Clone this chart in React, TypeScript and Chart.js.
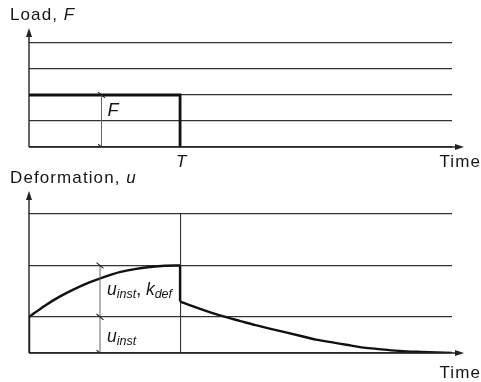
import React, { useEffect, useRef } from "react";
import { Chart, registerables } from "chart.js";

Chart.register(...registerables);

// ---- data ----
const TIME_MIN = 0;
const TIME_MAX = 28;
const LOAD_T = 10;

const loadX = [0, 10, 10];
const loadF = [2, 2, 0];
const loadGrid = [0, 1, 2, 3, 4];

const riseX = [0, 1, 2, 3, 4, 5, 6, 7, 8, 9, 10];
const riseU = [0.7, 0.91, 1.09, 1.24, 1.37, 1.48, 1.57, 1.63, 1.67, 1.695, 1.7];
const instX = [0, 0];
const instU = [0, 0.7];
const dropX = [10, 10];
const dropU = [1.7, 1.0];
const decayX = [10, 11, 12, 13, 14, 15, 16, 17, 18, 19, 20, 21, 22, 23, 24, 25, 26, 27, 28];
const decayU = [1.0, 0.89, 0.79, 0.7, 0.62, 0.54, 0.47, 0.4, 0.33, 0.26, 0.21, 0.16, 0.11, 0.08, 0.05, 0.03, 0.02, 0.01, 0.0];
const defGrid = [0, 0.7, 1.7, 2.7];

const dimLoadX = [4.8, 4.8];
const dimLoadY = [0, 2];
const dimDefX = [4.7, 4.7, 4.7];
const dimDefY = [0, 0.7, 1.7];

const FONT = "'Liberation Sans', Arial, Helvetica, sans-serif";
const TXT = "#161616";
const GRID = "#333";
const INK = "#111";

const pts = (xs: number[], ys: number[]) => xs.map((x, i) => ({ x, y: ys[i] }));

type Part = { t: string; it?: boolean; sub?: boolean };

function drawRich(ctx: CanvasRenderingContext2D, x: number, y: number, parts: Part[], size = 17, subSize = 12) {
  let cx = x;
  for (const p of parts) {
    const s = p.sub ? subSize : size;
    ctx.font = `${p.it ? "italic " : ""}${s}px ${FONT}`;
    ctx.fillText(p.t, cx, p.sub ? y + 3 : y);
    cx += ctx.measureText(p.t).width;
  }
}

function arrowUp(ctx: CanvasRenderingContext2D, x: number, y: number) {
  ctx.beginPath();
  ctx.moveTo(x, y);
  ctx.lineTo(x - 3, y + 9);
  ctx.lineTo(x + 3, y + 9);
  ctx.closePath();
  ctx.fill();
}
function arrowRight(ctx: CanvasRenderingContext2D, x: number, y: number) {
  ctx.beginPath();
  ctx.moveTo(x, y);
  ctx.lineTo(x - 9, y - 3);
  ctx.lineTo(x - 9, y + 3);
  ctx.closePath();
  ctx.fill();
}

function axesPlugin(topExt: number, labels: (chart: any, ctx: CanvasRenderingContext2D) => void) {
  return {
    id: "decor",
    afterDraw(chart: any) {
      const ctx: CanvasRenderingContext2D = chart.ctx;
      const a = chart.chartArea;
      ctx.save();
      ctx.strokeStyle = "#222";
      ctx.fillStyle = "#222";
      ctx.lineWidth = 1.4;
      ctx.beginPath();
      ctx.moveTo(a.left, a.bottom);
      ctx.lineTo(a.left, a.top - topExt + 4);
      ctx.moveTo(a.left, a.bottom);
      ctx.lineTo(a.right + 7, a.bottom);
      ctx.stroke();
      arrowUp(ctx, a.left, a.top - topExt);
      arrowRight(ctx, a.right + 12, a.bottom);
      ctx.fillStyle = TXT;
      ctx.textBaseline = "alphabetic";
      (ctx as any).letterSpacing = "1.1px";
      labels(chart, ctx);
      ctx.restore();
    },
  };
}

const dimStyle = {
  borderColor: "#666",
  borderWidth: 1,
  pointStyle: "line" as const,
  pointRotation: 40,
  pointRadius: 4.5,
  pointBorderWidth: 1.2,
  pointBorderColor: "#222",
  tension: 0,
};

const inkStyle = {
  borderColor: INK,
  borderWidth: 2.4,
  pointRadius: 0,
  borderCapStyle: "butt" as const,
  borderJoinStyle: "miter" as const,
};

function baseScales(yMin: number, yMax: number, yTicks: number[], xTicks: number[] | null) {
  return {
    x: {
      type: "linear" as const,
      min: TIME_MIN,
      max: TIME_MAX,
      border: { display: false },
      ticks: { display: false },
      grid: { display: !!xTicks, drawTicks: false, color: GRID, lineWidth: 1.1 },
      afterBuildTicks: (s: any) => {
        s.ticks = (xTicks || []).map((v) => ({ value: v }));
      },
    },
    y: {
      type: "linear" as const,
      min: yMin,
      max: yMax,
      border: { display: false },
      ticks: { display: false },
      grid: { drawTicks: false, color: GRID, lineWidth: 1.2 },
      afterBuildTicks: (s: any) => {
        s.ticks = yTicks.map((v) => ({ value: v }));
      },
    },
  };
}

export default function App() {
  const topRef = useRef<HTMLCanvasElement>(null);
  const botRef = useRef<HTMLCanvasElement>(null);

  useEffect(() => {
    document.body.style.margin = "0";
    const top = new Chart(topRef.current!, {
      type: "line",
      data: {
        datasets: [
          { data: pts(dimLoadX, dimLoadY), ...dimStyle },
          { data: pts(loadX, loadF), ...inkStyle, borderWidth: 2.8, tension: 0 },
        ],
      },
      options: {
        animation: false,
        responsive: false,
        devicePixelRatio: 1,
        layout: { padding: { left: 29, right: 29, top: 43, bottom: 235 } },
        plugins: { legend: { display: false }, tooltip: { enabled: false } },
        scales: baseScales(0, 4, loadGrid, null),
      },
      plugins: [
        axesPlugin(15, (chart, ctx) => {
          const xs = chart.scales.x;
          const ys = chart.scales.y;
          const a = chart.chartArea;
          drawRich(ctx, 10, 20, [{ t: "Load, " }, { t: "F", it: true }]);
          ctx.textAlign = "right";
          drawRich(ctx, 481, a.bottom + 20, [{ t: "Time" }]);
          ctx.textAlign = "left";
          const tx = xs.getPixelForValue(LOAD_T);
          ctx.font = `italic 17px ${FONT}`;
          ctx.fillText("T", tx - 4, a.bottom + 20);
          drawRich(ctx, xs.getPixelForValue(dimLoadX[0]) + 6, ys.getPixelForValue(1.2), [{ t: "F", it: true }], 18);
        }),
      ],
    });

    const bot = new Chart(botRef.current!, {
      type: "line",
      data: {
        datasets: [
          { data: pts(dimDefX, dimDefY), ...dimStyle },
          { data: pts(instX, instU), ...inkStyle, tension: 0 },
          { data: pts(riseX, riseU), ...inkStyle, cubicInterpolationMode: "monotone" as const },
          { data: pts(dropX, dropU), ...inkStyle, tension: 0 },
          { data: pts(decayX, decayU), ...inkStyle, cubicInterpolationMode: "monotone" as const },
        ],
      },
      options: {
        animation: false,
        responsive: false,
        devicePixelRatio: 1,
        layout: { padding: { left: 29, right: 29, top: 214, bottom: 29 } },
        plugins: { legend: { display: false }, tooltip: { enabled: false } },
        scales: baseScales(0, 2.7, defGrid, [LOAD_T]),
      },
      plugins: [
        axesPlugin(23, (chart, ctx) => {
          const xs = chart.scales.x;
          const ys = chart.scales.y;
          const a = chart.chartArea;
          drawRich(ctx, 10, a.top - 31, [{ t: "Deformation, " }, { t: "u", it: true }]);
          ctx.textAlign = "right";
          drawRich(ctx, 481, a.bottom + 25, [{ t: "Time" }]);
          ctx.textAlign = "left";
          (ctx as any).letterSpacing = "0px";
          const lx = xs.getPixelForValue(dimDefX[0]) + 7;
          drawRich(ctx, lx, ys.getPixelForValue(1.13), [
            { t: "u", it: true },
            { t: "inst", it: true, sub: true },
            { t: ", " },
            { t: "k", it: true },
            { t: "def", it: true, sub: true },
          ], 17.5, 12.5);
          drawRich(ctx, lx, ys.getPixelForValue(0.22), [
            { t: "u", it: true },
            { t: "inst", it: true, sub: true },
          ], 17.5, 12.5);
        }),
      ],
    });

    return () => {
      top.destroy();
      bot.destroy();
    };
  }, []);

  const cs: React.CSSProperties = { position: "absolute", left: 0, top: 0 };
  return (
    <div style={{ position: "fixed", left: 0, top: 0, width: 481, height: 382, background: "#fff" }}>
      <canvas ref={topRef} width={481} height={382} style={cs} />
      <canvas ref={botRef} width={481} height={382} style={cs} />
    </div>
  );
}
